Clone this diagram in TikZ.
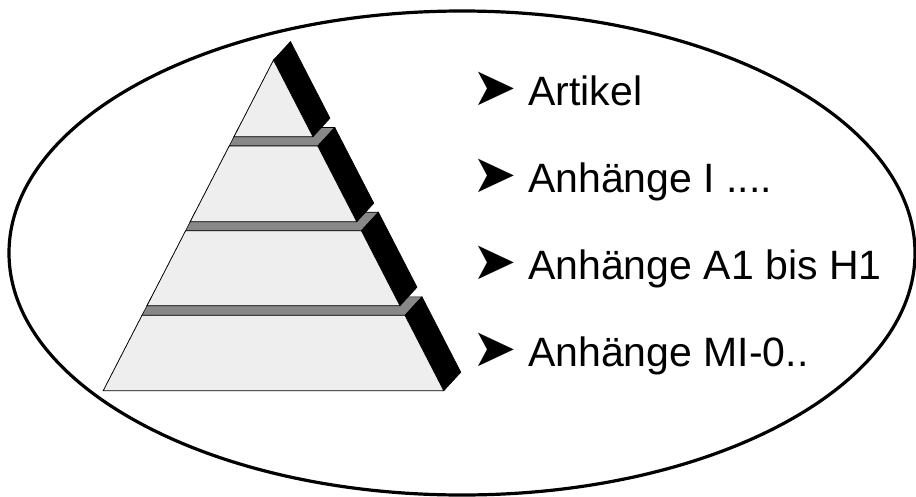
\documentclass[tikz,border=0pt]{standalone}
\usepackage{fontspec}
\setmainfont{Liberation Sans}
\newfontfamily\arrowfont{DejaVu Sans}
\definecolor{frontgray}{HTML}{EEEEEE}
\definecolor{ledgegray}{HTML}{888888}
\tikzset{
  front/.style={fill=frontgray,draw=black,line width=0.8pt,line join=miter},
  ledge/.style={fill=ledgegray,draw=black,line width=0.6pt},
  side/.style={fill=black,draw=black,line width=0.6pt},
  bullet/.style={anchor=center,inner sep=0pt,font=\arrowfont\fontsize{53}{56}\selectfont},
  item/.style={anchor=base west,inner sep=0pt,font=\fontsize{41}{49}\selectfont}
}
\begin{document}
\begin{tikzpicture}[x=1pt,y=-1pt]
      \useasboundingbox (0,0) rectangle (916,496);
      \draw[line width=3.2pt] (462,253) ellipse (453pt and 242pt);
      % bottom tier
      \draw[ledge] (142,315.3)--(405,315.3)--(422,296.8)--(151.5,296.8)--cycle;
      \draw[side] (405,315.3)--(443.8,390.7)--(460.8,372.2)--(422,296.8)--cycle;
      \draw[front] (142,315.3)--(405,315.3)--(443.8,390.7)--(103.2,390.7)--cycle;
      % third tier
      \draw[ledge] (185.6,230.7)--(361.4,230.7)--(378.4,212.2)--(195.1,212.2)--cycle;
      \draw[side] (361.4,230.7)--(400,305.7)--(417,287.2)--(378.4,212.2)--cycle;
      \draw[front] (185.6,230.7)--(361.4,230.7)--(400,305.7)--(147,305.7)--cycle;
      % second tier
      \draw[ledge] (229.2,146)--(317.8,146)--(334.8,127.5)--(238.7,127.5)--cycle;
      \draw[side] (317.8,146)--(356.8,221.7)--(373.8,203.2)--(334.8,127.5)--cycle;
      \draw[front] (229.2,146)--(317.8,146)--(356.8,221.7)--(190.2,221.7)--cycle;
      % top
      \draw[side] (273.5,60)--(313,136.7)--(330,118.2)--(290.5,41.5)--cycle;
      \draw[front] (273.5,60)--(313,136.7)--(234,136.7)--cycle;
      % labels
      \node[bullet] (pfeil1) at (495,89) {➤};
      \node[item] (artikel) at (528,105) {Artikel};
      \node[bullet] (pfeil2) at (495,176) {➤};
      \node[item] (anhangI) at (528,192) {Anhänge I ....};
      \node[bullet] (pfeil3) at (495,263) {➤};
      \node[item] (anhangA) at (528,279) {Anhänge A1 bis H1};
      \node[bullet] (pfeil4) at (495,350) {➤};
      \node[item] (anhangMI) at (528,366) {Anhänge MI-0..};
\end{tikzpicture}
\end{document}
